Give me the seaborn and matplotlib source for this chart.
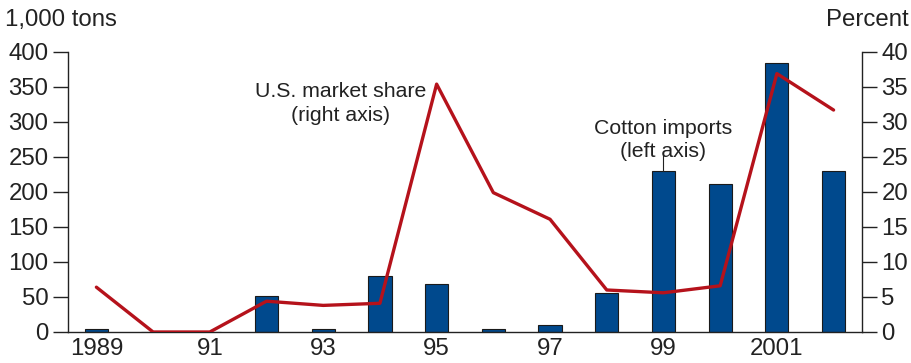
import numpy as np
import pandas as pd
import matplotlib
matplotlib.use("Agg")
import matplotlib.pyplot as plt
import seaborn as sns

# data
years = [1989, 1990, 1991, 1992, 1993, 1994, 1995, 1996, 1997, 1998, 1999, 2000, 2001, 2002]
imports_kt = [4, 0, 0, 52, 4, 80, 69, 4, 9.5, 56, 230, 211, 384, 230]
market_share = [6.4, 0, 0, 4.4, 3.8, 4.1, 35.4, 19.9, 16.1, 6.0, 5.6, 6.6, 36.9, 31.7]
xtick_years = [1989, 1991, 1993, 1995, 1997, 1999, 2001]
xtick_labels = ["1989", "91", "93", "95", "97", "99", "2001"]

df = pd.DataFrame({"year": years, "imports": imports_kt, "share": market_share})

sns.set_style("ticks")
plt.rcParams["font.family"] = ["Liberation Sans", "DejaVu Sans"]

BLUE = "#00498d"
RED = "#b5121b"
INK = "#222222"
FS = 17.3
FS_NOTE = 15.3

fig = plt.figure(figsize=(9.12, 3.63), dpi=100)
ax = fig.add_axes([0.0746, 0.0854, 0.8705, 0.7716])

sns.barplot(data=df, x="year", y="imports", native_scale=True, width=0.41,
            color=BLUE, edgecolor="#1a1a1a", linewidth=0.8, saturation=1, ax=ax)
ax.set_xlim(1988.5, 2002.5)
ax.set_ylim(0, 400)
ax.set_yticks(range(0, 401, 50))
ax.set_xticks(xtick_years)
ax.set_xticklabels(xtick_labels)
ax.set_xlabel("")
ax.set_ylabel("")

ax2 = ax.twinx()
sns.lineplot(data=df, x="year", y="share", color=RED, linewidth=2.4, ax=ax2)
ax2.set_ylim(0, 40)
ax2.set_yticks(range(0, 41, 5))
ax2.set_ylabel("")
ax2.set_xlim(1988.5, 2002.5)

for a in (ax, ax2):
    a.spines["top"].set_visible(False)
    for s in a.spines.values():
        s.set_linewidth(1.0)
        s.set_color(INK)
ax.spines["right"].set_visible(False)
ax2.spines["left"].set_visible(False)
ax2.spines["bottom"].set_visible(False)

ax.tick_params(axis="y", length=11, width=1.0, pad=3, labelsize=FS, colors=INK)
ax.tick_params(axis="x", length=0, pad=4, labelsize=FS, colors=INK)
ax2.tick_params(axis="y", length=11, width=1.0, pad=3, labelsize=FS, colors=INK)

fig.text(0.005, 0.945, "1,000 tons", fontsize=FS, ha="left", va="center", color=INK)
fig.text(0.996, 0.945, "Percent", fontsize=FS, ha="right", va="center", color=INK)

ax.text(1993.3, 326, "U.S. market share\n(right axis)", fontsize=FS_NOTE, ha="center",
        va="center", color=INK, linespacing=1.3)
ax.text(1999.0, 274, "Cotton imports\n(left axis)", fontsize=FS_NOTE, ha="center",
        va="center", color=INK, linespacing=1.3)
ax.plot([1999.0, 1999.0], [257, 230], color=INK, linewidth=0.8)

fig.savefig("out.png", dpi=100)
